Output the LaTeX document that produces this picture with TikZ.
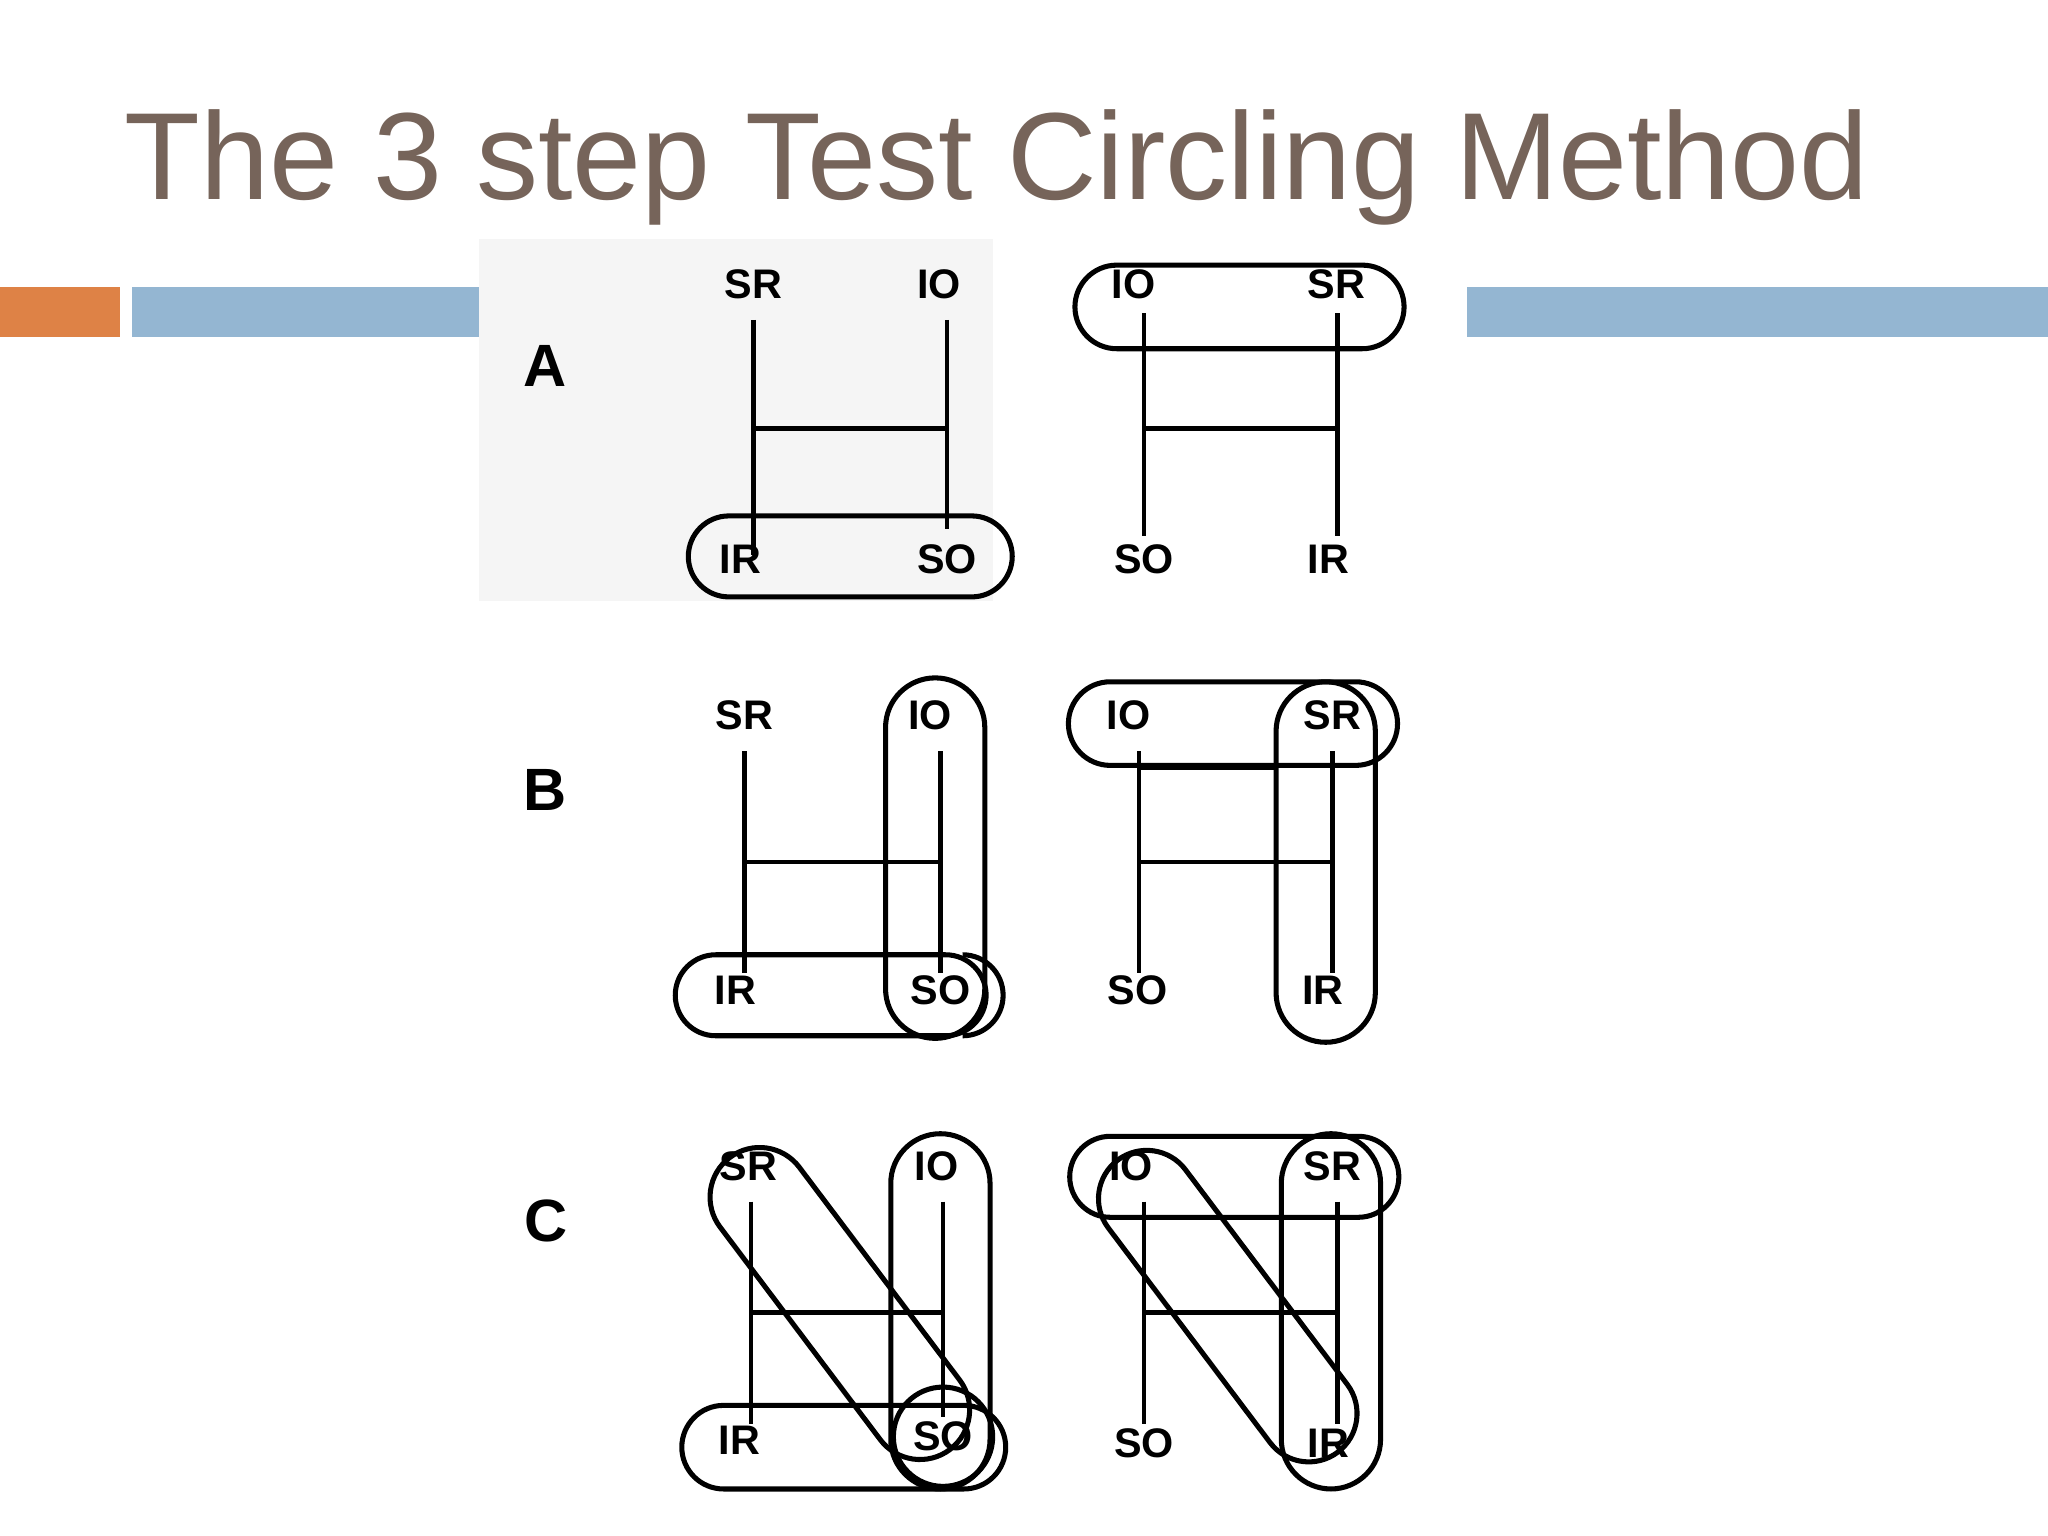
\documentclass[tikz,border=0pt]{standalone}
\usepackage{fontspec}
\setmainfont{Liberation Sans}
\begin{document}
\begin{tikzpicture}[x=0.01cm,y=-0.01cm,
  lbl/.style={font=\bfseries\fontsize{9}{10}\selectfont},
  row/.style={font=\bfseries\fontsize{13}{14}\selectfont},
  ln/.style={line width=1pt},
  capline/.style={line width=1.1pt}]
\useasboundingbox (0,0) rectangle (1568,1176);
\definecolor{ttl}{RGB}{118,100,90}
\definecolor{orn}{RGB}{222,130,70}
\definecolor{blu}{RGB}{148,182,210}
\node[anchor=base west,text=ttl,font=\fontsize{27}{30}\selectfont,inner sep=0] (title) at (95,153) {The 3 step Test Circling Method};
\fill[orn] (0,220) rectangle (92,258);
\fill[blu] (101,220) rectangle (367,258);
\fill[blu] (1123,220) rectangle (1568,258);
\fill[black!4] (367,183) rectangle (760,460);
\newcommand{\capsl}[5]{\draw[capline,shift={(#1,#2)},rotate=#5,rounded corners=#4cm] (-#3,-#4*100) rectangle (#3,#4*100);}
% Row A
\node[row] (lA) at (417,280) {A};
\node[lbl] (a1) at (577,218) {SR}; \node[lbl] (a2) at (719,218) {IO};
\node[lbl] (a3) at (567,428) {IR}; \node[lbl] (a4) at (725,428) {SO};
\draw[ln] (577,245) -- (577,425); \draw[ln] (725,245) -- (725,405);
\draw[ln] (577,328) -- (725,328);
\capsl{651}{426}{124}{0.31}{0}
\node[lbl] (a5) at (868,218) {IO}; \node[lbl] (a6) at (1023,218) {SR};
\node[lbl] (a7) at (876,428) {SO}; \node[lbl] (a8) at (1017,428) {IR};
\draw[ln] (876,240) -- (876,410); \draw[ln] (1024,240) -- (1024,410);
\draw[ln] (876,328) -- (1024,328);
\capsl{949}{235}{126}{0.32}{0}
% Row B
\node[row] (lB) at (417,605) {B};
\node[lbl] (b1) at (570,548) {SR}; \node[lbl] (b2) at (712,548) {IO};
\node[lbl] (b3) at (563,758) {IR}; \node[lbl] (b4) at (720,758) {SO};
\draw[ln] (570,575) -- (570,745); \draw[ln] (720,575) -- (720,745);
\draw[ln] (570,660) -- (720,660);
\capsl{716}{657}{138}{0.38}{-90}
\capsl{636}{762}{119}{0.31}{0}
\draw[capline] (737,731) arc (90:-90:0.31cm);
\node[lbl] (b5) at (864,548) {IO}; \node[lbl] (b6) at (1020,548) {SR};
\node[lbl] (b7) at (871,758) {SO}; \node[lbl] (b8) at (1013,758) {IR};
\draw[ln] (872,575) -- (872,745); \draw[ln] (1020,575) -- (1020,745);
\draw[ln] (872,588) -- (978,588); \draw[ln] (872,660) -- (1020,660);
\capsl{944}{554}{126}{0.32}{0}
\capsl{1015}{660}{138}{0.38}{-90}
% Row C
\node[row] (lC) at (418,935) {C};
\node[lbl] (c1) at (573,893) {SR}; \node[lbl] (c2) at (717,893) {IO};
\node[lbl] (c3) at (566,1103) {IR}; \node[lbl] (c4) at (722,1100) {SO};
\draw[ln] (575,920) -- (575,1090); \draw[ln] (722,920) -- (722,1085);
\draw[ln] (575,1005) -- (722,1005);
\capsl{720}{1004}{136}{0.38}{-90}
\capsl{646}{1108}{124}{0.32}{0}
\capsl{643}{998}{140}{0.38}{-53}
\draw[capline] (722,1100) circle (0.38cm);
\node[lbl] (c5) at (866,893) {IO}; \node[lbl] (c6) at (1020,893) {SR};
\node[lbl] (c7) at (876,1105) {SO}; \node[lbl] (c8) at (1017,1105) {IR};
\draw[ln] (876,920) -- (876,1090); \draw[ln] (1024,920) -- (1024,1090);
\draw[ln] (876,932) -- (982,932); \draw[ln] (876,1005) -- (1024,1005);
\capsl{945}{901}{126}{0.31}{0}
\capsl{1019}{1004}{136}{0.38}{-90}
\capsl{940}{1000}{140}{0.37}{-53}
\end{tikzpicture}
\end{document}
